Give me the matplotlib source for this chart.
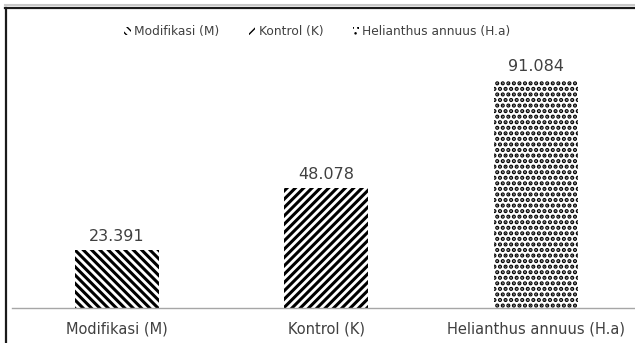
import matplotlib.pyplot as plt
from matplotlib.patches import Patch
from matplotlib.lines import Line2D

categories = ["Modifikasi (M)", "Kontrol (K)", "Helianthus annuus (H.a)"]
values = [23.391, 48.078, 91.084]
value_labels = ["23.391", "48.078", "91.084"]
hatches = ["\\\\\\\\", "////", "..."]
hatch_lw = [2.2, 2.2, 2.1]

plt.rcParams["font.family"] = ["DejaVu Sans"]

W, H = 635, 343
fig = plt.figure(figsize=(W / 100, H / 100), dpi=100)

# axes: baseline at y=308, x spacing 209.5 px per category
left = 12 / W
bottom = (H - 308) / H
width = (3 * 209.5) / W
height = 250 / H
ax = fig.add_axes([left, bottom, width, height])

x = list(range(len(categories)))
for xi, v, h, lw in zip(x, values, hatches, hatch_lw):
    with plt.rc_context({"hatch.linewidth": lw}):
        ax.bar(xi, v, width=0.4, color="white", edgecolor="black",
               linewidth=0, hatch=h, zorder=2)

for xi, v, lab in zip(x, values, value_labels):
    ax.text(xi, v + 2.4, lab, ha="center", va="bottom", fontsize=11.5,
            color="#404040")

ax.set_xlim(-0.5, 2.5)
ax.set_ylim(0, 100)
ax.set_xticks(x)
ax.set_xticklabels(categories, fontsize=10.5, color="#404040")
ax.tick_params(axis="x", length=0, pad=10)
ax.set_yticks([])
for s in ["top", "right", "left"]:
    ax.spines[s].set_visible(False)
ax.spines["bottom"].set_color("#a6a6a6")
ax.spines["bottom"].set_linewidth(1.0)

handles = []
for h, lw in zip(hatches, hatch_lw):
    with plt.rc_context({"hatch.linewidth": lw}):
        handles.append(Patch(facecolor="white", edgecolor="black", hatch=h,
                             linewidth=0))
leg = fig.legend(handles, categories, loc="center", bbox_to_anchor=(0.5, 1 - 32 / H),
                 ncol=3, frameon=False, fontsize=8.8, handlelength=0.5,
                 handleheight=0.6, handletextpad=0.3, columnspacing=2.4,
                 labelcolor="#404040")

# outer frame (top and left edges visible)
fig.add_artist(Line2D([5 / W, 1], [1 - 8 / H, 1 - 8 / H], color="#1a1a1a",
                      lw=1.6, transform=fig.transFigure))
fig.add_artist(Line2D([5.5 / W, 5.5 / W], [0, 1 - 8 / H], color="#1a1a1a",
                      lw=1.6, transform=fig.transFigure))
fig.add_artist(Line2D([5 / W, 1], [1 - 5 / H, 1 - 5 / H], color="#c8c8c8",
                      lw=1.5, transform=fig.transFigure))

fig.savefig("out.png", dpi=100)
